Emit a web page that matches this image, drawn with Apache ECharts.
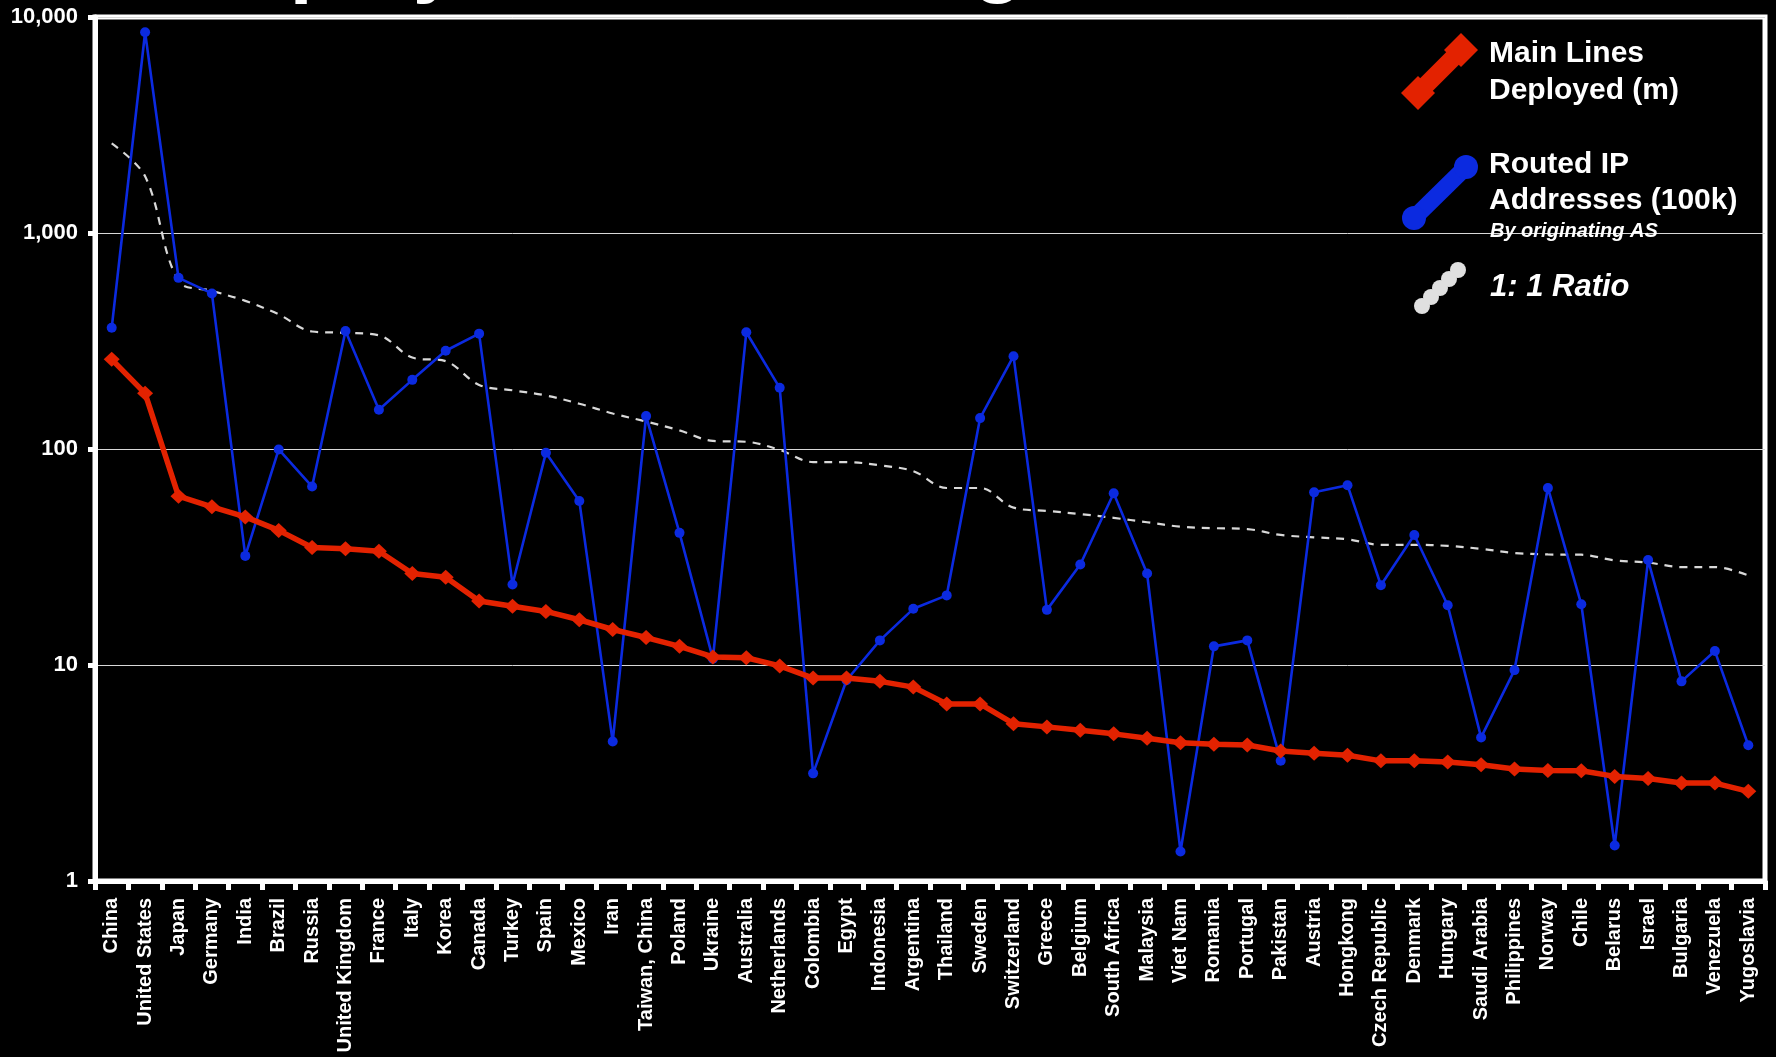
<!DOCTYPE html>
<html>
<head>
<meta charset="utf-8">
<script src="https://cdn.jsdelivr.net/npm/echarts@6/dist/echarts.min.js"></script>
<style>
html,body{margin:0;padding:0;background:#000;}
#chart{width:1776px;height:1057px;}
</style>
</head>
<body>
<div id="chart"></div>
<script>
const categories = ["China","United States","Japan","Germany","India","Brazil","Russia","United Kingdom","France","Italy","Korea","Canada","Turkey","Spain","Mexico","Iran","Taiwan, China","Poland","Ukraine","Australia","Netherlands","Colombia","Egypt","Indonesia","Argentina","Thailand","Sweden","Switzerland","Greece","Belgium","South Africa","Malaysia","Viet Nam","Romania","Portugal","Pakistan","Austria","Hongkong","Czech Republic","Denmark","Hungary","Saudi Arabia","Philippines","Norway","Chile","Belarus","Israel","Bulgaria","Venezuela","Yugoslavia"];

const mainLines = [260,181,60.5,54,48.5,42,35,34.5,33.6,26.5,25.5,19.8,18.7,17.7,16.2,14.6,13.4,12.2,10.9,10.8,9.9,8.7,8.7,8.4,7.9,6.6,6.6,5.35,5.17,4.99,4.8,4.58,4.37,4.3,4.26,4.0,3.9,3.82,3.6,3.6,3.56,3.45,3.3,3.25,3.24,3.05,2.98,2.84,2.84,2.6];

const routedIP = [364,8500,620,525,32,99.5,67,352,152,209,285,342,23.6,96,57.5,4.42,142,40.9,10.7,347,192,3.15,8.5,13,18.2,21,139,269,18,29.2,62.4,26.5,1.37,12.2,13,3.6,63,68,23.4,40,18.9,4.62,9.47,66,19.1,1.46,30.6,8.4,11.6,4.25];

const ratioLine = [2600,1830,600,540,485,420,350,345,336,265,255,198,187,177,162,146,134,122,109,108,99,87,87,84,79,66,66,53.5,51.7,50,48,45.8,43.7,43,42.6,40,39,38.2,36,36,35.6,34.5,33,32.5,32.4,30.5,29.8,28.4,28.4,26];

const yTicks = [1,10,100,1000,10000];

const seriesNames = ["Main Lines\nDeployed (m)","Routed IP\nAddresses (100k)","1: 1 Ratio"];
const legendNote = "By originating AS";
const titleText = "Deployed vs. Routing";

function hasFont(name){
  const c=document.createElement('canvas').getContext('2d');
  c.font='bold 40px monospace';
  const w1=c.measureText('Belarus WMil 12').width;
  c.font='bold 40px "'+name+'", monospace';
  const w2=c.measureText('Belarus WMil 12').width;
  return Math.abs(w1-w2)>0.5;
}
const narrow = hasFont('Liberation Sans Narrow');
const xLabelFamily = narrow ? '"Liberation Sans Narrow", "Arial Narrow", sans-serif' : '"Liberation Sans", Arial, sans-serif';
const xLabelSize = narrow ? 24 : 20;
const mainFont = '"Liberation Sans", Arial, Helvetica, sans-serif';

const RED = '#e32200', BLUE = '#0b2ae0', GRAY = '#d8d8d8';

const chart = echarts.init(document.getElementById('chart'), null, {renderer:'canvas'});

function txt(x, y, text, size, italic){
  return {
    type:'text', x:x, y:y, silent:true, z:100,
    style:{
      text:text, fill:'#fff',
      font:(italic?'italic ':'')+'bold '+size+'px '+mainFont,
      textAlign:'left', textVerticalAlign:'middle', align:'left', verticalAlign:'middle'
    }
  };
}

const redLabel = seriesNames[0].split('\n');
const blueLabel = seriesNames[1].split('\n');

const graphics = [
  // partially visible slide title (cut at top edge)
  {type:'text', x:185, y:-36, silent:true, z:1,
   style:{text:titleText, fill:'#fff', font:'bold 82px '+mainFont, textAlign:'left', textVerticalAlign:'middle', align:'left', verticalAlign:'middle'}},
  // red legend icon
  {type:'line', z:100, shape:{x1:1418,y1:93,x2:1461,y2:50}, style:{stroke:RED, lineWidth:18}},
  {type:'polygon', z:100, shape:{points:[[1461,33],[1478,50],[1461,67],[1444,50]]}, style:{fill:RED}},
  {type:'polygon', z:100, shape:{points:[[1418,76],[1435,93],[1418,110],[1401,93]]}, style:{fill:RED}},
  txt(1489, 54, redLabel[0], 30, false),
  txt(1489, 91, redLabel[1], 30, false),
  // blue legend icon
  {type:'line', z:100, shape:{x1:1414,y1:218,x2:1466,y2:167}, style:{stroke:BLUE, lineWidth:17}},
  {type:'circle', z:100, shape:{cx:1414,cy:218,r:12}, style:{fill:BLUE}},
  {type:'circle', z:100, shape:{cx:1466,cy:167,r:12}, style:{fill:BLUE}},
  txt(1489, 165, blueLabel[0], 30, false),
  txt(1489, 201, blueLabel[1], 30, false),
  txt(1490, 231, legendNote, 20, true),
  // gray dotted legend icon
  {type:'circle', z:100, shape:{cx:1422,cy:306,r:8}, style:{fill:'#e0e0e0'}},
  {type:'circle', z:100, shape:{cx:1431,cy:297,r:8}, style:{fill:'#e0e0e0'}},
  {type:'circle', z:100, shape:{cx:1440,cy:288,r:8}, style:{fill:'#e0e0e0'}},
  {type:'circle', z:100, shape:{cx:1449,cy:279,r:8}, style:{fill:'#e0e0e0'}},
  {type:'circle', z:100, shape:{cx:1458,cy:270,r:8}, style:{fill:'#e0e0e0'}},
  txt(1490, 287, seriesNames[2], 31, true)
];

const option = {
  backgroundColor:'#000',
  animation:false,
  grid:{left:95, right:11, top:17, bottom:176, show:true, borderColor:'#fff', borderWidth:5, backgroundColor:'transparent'},
  xAxis:{
    type:'category', data:categories, boundaryGap:true,
    axisLine:{show:true, lineStyle:{color:'#fff', width:5}},
    axisTick:{show:true, interval:0, length:9, lineStyle:{color:'#fff', width:5}},
    axisLabel:{interval:0, rotate:90, margin:17, color:'#fff', fontWeight:'bold', fontSize:xLabelSize, fontFamily:xLabelFamily},
    splitLine:{show:false}
  },
  yAxis:{
    type:'log', logBase:10, min:yTicks[0], max:yTicks[yTicks.length-1],
    axisLine:{show:true, lineStyle:{color:'#fff', width:5}},
    axisTick:{show:true, length:7, lineStyle:{color:'#fff', width:5}},
    minorTick:{show:false},
    axisLabel:{color:'#fff', fontWeight:'bold', fontSize:22, fontFamily:mainFont, margin:17,
      formatter:function(v){ return Math.round(v).toLocaleString('en-US'); }},
    splitLine:{show:true, lineStyle:{color:'#d8d8d8', width:1}}
  },
  series:[
    {name:'1: 1 Ratio', type:'line', data:ratioLine, smooth:0.35, showSymbol:false, symbol:'none', z:2,
     lineStyle:{color:GRAY, width:2.2, type:[8,7]}},
    {name:'Routed IP Addresses (100k)', type:'line', data:routedIP, z:3,
     symbol:'circle', symbolSize:10, itemStyle:{color:BLUE}, lineStyle:{color:BLUE, width:2.6}},
    {name:'Main Lines Deployed (m)', type:'line', data:mainLines, z:4,
     symbol:'diamond', symbolSize:[16,15], itemStyle:{color:RED}, lineStyle:{color:RED, width:5.5}}
  ],
  graphic:graphics
};
chart.setOption(option);
</script>
</body>
</html>
